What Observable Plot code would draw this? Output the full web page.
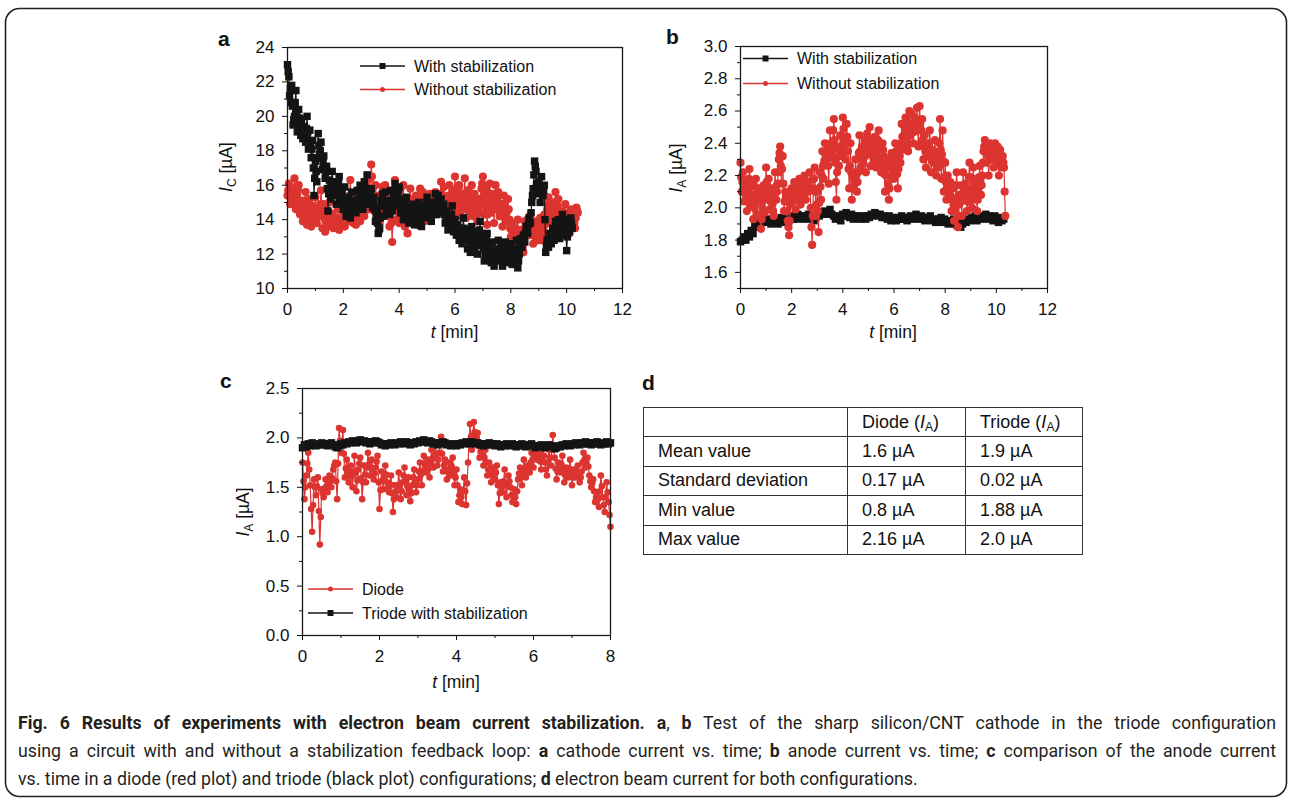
<!DOCTYPE html>
<html><head><meta charset="utf-8">
<script src="https://cdn.jsdelivr.net/npm/d3@7"></script>
<script src="https://cdn.jsdelivr.net/npm/@observablehq/plot@0.6"></script>
<style>
html,body{margin:0;padding:0;background:#fff;}
#fig{position:relative;width:1292px;height:801px;overflow:hidden;background:#fff;font-family:"Liberation Sans",Arial,Helvetica,sans-serif;color:#111;}
.panel{position:absolute;}
.panel svg{overflow:visible;}
#overlay{position:absolute;left:0;top:0;pointer-events:none;}
#tbl{position:absolute;left:643px;top:407px;border-collapse:collapse;table-layout:fixed;font-size:18px;color:#111;}
#tbl td{border:1px solid #333;padding:0 0 0 14px;height:28.4px;vertical-align:middle;white-space:nowrap;}
#tbl sub{font-size:12px;vertical-align:-3px;line-height:0;}
</style></head>
<body>
<div id="fig">
  <div id="pa" class="panel" style="left:200px;top:20px"></div>
  <div id="pb" class="panel" style="left:650px;top:20px"></div>
  <div id="pc" class="panel" style="left:210px;top:362px"></div>
  <table id="tbl"></table>
  <svg id="overlay" width="1292" height="801"></svg>
</div>
<script>
const RED = "#dc3430", BLK = "#141414";

// ---------- panel a : cathode current I_C [µA] ----------
// samples every aStep min; "Mid" arrays are the readings half a step later
const aStep = 0.05;
const aWith = [
  23.0,22.3,21.6,21.8,19.5,20.0,21.5,19.1,20.4,19.3,
  19.8,18.7,19.4,18.5,20.0,18.1,19.2,17.6,18.6,15.4,
  17.4,16.2,19.0,17.8,18.5,16.9,17.7,16.4,17.1,14.5,
  16.3,15.2,16.8,15.6,16.1,14.9,15.8,16.5,15.0,15.6,
  14.6,15.9,14.2,15.3,14.8,14.1,15.6,14.5,15.1,14.4,
  15.7,14.8,16.0,15.2,14.6,16.2,15.0,16.6,14.9,15.4,
  15.8,14.7,15.3,13.9,14.5,13.2,13.5,14.8,15.5,14.2,
  15.6,14.6,15.1,14.3,15.7,14.5,15.0,16.1,14.8,15.5,
  15.9,14.4,15.2,14.0,14.9,15.3,14.2,13.8,14.7,14.1,
  14.9,13.7,14.5,13.9,15.0,14.3,13.6,14.8,14.1,14.6,
  15.3,14.2,14.8,13.9,15.0,14.5,15.5,14.3,15.4,14.7,
  15.2,14.4,14.9,13.8,14.5,13.4,14.2,13.9,14.8,13.3,
  14.0,13.1,13.7,12.8,13.5,12.6,14.1,12.9,13.4,12.3,
  13.2,12.1,13.6,12.7,12.4,13.3,12.0,12.9,13.9,12.5,
  13.0,11.6,12.5,13.2,11.8,12.3,11.5,12.7,11.3,12.2,
  11.9,12.8,11.6,12.4,11.3,12.1,12.7,11.5,12.3,11.8,
  12.6,11.4,12.2,11.9,12.8,11.2,12.0,12.9,12.4,13.1,
  12.7,13.6,13.2,14.1,13.8,15.0,15.8,17.4,16.8,15.5,
  16.2,15.0,16.5,15.4,16.0,12.1,12.8,12.4,13.2,12.6,
  13.5,12.8,13.9,13.1,14.0,12.9,13.6,14.3,13.4,14.0,
  12.2,13.8,13.3,14.1,13.5
];
const aWithMid = [
  22.6,21.2,20.8,20.6,19.8,20.8,20.3,19.7,19.9,18.9,
  19.2,19.0,18.9,19.3,19.1,18.6,18.4,18.1,17.0,16.4,
  16.8,17.6,18.3,18.0,17.6,17.3,17.0,16.8,15.8,15.5,
  15.7,16.0,16.2,15.9,15.5,15.4,16.2,15.7,15.3,15.1,
  15.2,15.0,14.8,14.6,14.4,14.9,15.0,14.8,14.7,15.0,
  15.2,15.4,15.6,14.9,15.4,15.6,15.8,15.7,15.1,15.6,
  15.2,15.0,14.6,14.2,13.8,13.4,14.1,15.1,14.8,14.9,
  15.1,14.9,14.7,15.0,15.1,14.8,15.5,15.4,15.2,15.7,
  15.1,14.8,14.6,14.5,15.1,14.7,14.0,14.2,14.4,14.5,
  14.3,14.1,14.2,14.4,14.6,13.9,14.2,14.4,14.3,15.0,
  14.8,14.5,14.3,14.4,14.8,15.0,14.9,14.9,15.0,14.9,
  14.8,14.6,14.3,14.1,13.9,13.8,14.0,14.3,14.0,13.6,
  13.5,13.4,13.2,13.1,13.0,13.4,13.5,13.1,12.9,12.8,
  12.6,12.9,13.1,12.5,12.9,12.6,12.5,13.4,13.2,12.8,
  12.3,12.0,12.8,12.5,12.0,11.9,12.1,12.0,11.7,12.0,
  12.3,12.2,12.0,11.8,11.7,12.4,12.1,11.9,12.0,12.2,
  12.0,11.8,12.1,12.3,12.0,11.6,12.4,12.6,12.8,12.9,
  13.2,13.4,13.7,13.9,14.4,15.4,16.6,17.1,16.1,15.9,
  15.6,15.8,15.9,15.7,14.0,12.5,12.6,12.8,12.9,13.0,
  13.2,13.3,13.5,13.6,13.4,13.2,13.9,13.8,13.7,13.1,
  13.0,13.5,13.7,13.8
];
const aWithout = [
  15.4,16.1,14.9,15.8,15.2,16.4,14.6,15.5,16.0,14.3,
  15.1,13.9,14.7,15.6,13.7,14.4,15.2,13.6,14.8,14.0,
  15.3,13.8,14.6,14.2,15.7,13.5,14.9,13.3,14.5,13.6,
  15.0,13.9,14.3,13.5,14.1,13.7,14.6,13.4,14.0,13.8,
  14.4,13.6,15.2,13.9,14.6,16.3,14.4,13.8,15.0,13.7,
  15.6,14.2,13.9,15.0,14.5,14.2,16.1,15.3,14.6,15.8,
  17.2,15.8,14.5,16.0,14.0,15.4,13.8,14.7,15.9,14.3,
  16.0,14.3,15.5,13.6,14.9,12.7,15.2,16.3,14.0,15.7,
  13.8,15.8,14.2,16.0,13.6,15.1,13.2,14.6,15.8,13.9,
  15.0,14.3,15.4,13.7,14.9,15.8,14.2,15.6,13.9,14.6,
  15.2,14.0,15.5,14.4,15.0,14.7,15.6,14.3,15.5,14.7,
  16.2,14.8,15.9,14.5,15.3,14.9,16.0,14.4,15.6,15.0,
  16.5,14.4,15.6,16.0,14.2,15.3,14.6,16.4,14.1,15.7,
  14.5,15.1,16.0,14.2,15.5,14.8,13.9,15.2,14.4,15.8,
  16.5,14.3,15.8,13.7,14.9,16.1,14.4,15.5,13.8,16.0,
  14.6,15.6,14.2,14.9,13.6,15.4,14.5,13.9,15.2,14.0,
  13.0,13.8,12.4,13.5,12.9,14.0,12.2,13.4,12.8,12.1,
  13.9,13.3,14.0,13.1,14.3,13.6,12.6,13.9,13.2,12.8,
  13.5,14.1,12.8,13.6,14.3,13.2,14.6,15.3,13.9,14.8,
  15.0,14.2,15.6,14.4,15.2,13.7,14.5,13.3,14.0,14.9,
  13.6,14.4,13.2,14.6,13.8,14.2,13.5,14.7,14.4
];
const aWithoutMid = [
  15.7,15.5,15.3,15.5,15.8,15.4,15.0,15.7,15.1,14.7,
  14.5,14.3,15.1,14.6,14.1,14.8,14.4,14.2,14.4,14.6,
  14.5,14.2,14.4,14.9,14.6,14.2,14.1,13.9,14.0,14.3,
  14.4,14.1,13.9,13.8,13.9,14.1,14.0,13.7,13.9,14.1,
  14.0,14.4,14.5,14.2,15.4,15.3,14.1,14.4,14.3,14.6,
  14.9,14.0,14.4,14.7,14.3,15.1,15.7,14.9,15.2,16.4,
  16.5,15.1,15.2,15.0,14.7,14.6,14.2,15.3,15.1,15.2,
  15.1,14.9,14.5,14.2,13.8,14.0,15.7,15.1,14.8,14.7,
  14.8,15.0,15.1,14.8,14.3,14.2,13.9,15.2,14.8,14.4,
  14.6,14.8,14.5,14.3,15.3,15.0,14.9,14.7,14.2,14.9,
  14.6,14.7,14.9,14.7,14.8,15.2,14.9,14.9,15.1,15.4,
  15.5,15.3,15.2,14.9,15.1,15.4,15.2,15.0,15.3,15.7,
  15.4,15.0,15.8,15.1,14.7,14.9,15.5,15.2,14.9,15.1,
  14.8,15.5,15.1,14.8,15.1,14.3,14.5,14.8,15.1,16.1,
  15.4,15.0,14.7,14.3,15.5,15.2,14.9,14.6,14.9,15.3,
  15.1,14.9,14.5,14.2,14.5,14.9,14.2,14.5,14.6,13.5,
  13.4,13.1,12.9,13.2,13.4,13.1,12.8,13.1,12.4,13.0,
  13.6,13.6,13.5,13.7,13.9,13.1,13.2,13.5,13.0,13.1,
  13.8,13.4,13.2,13.9,13.7,13.9,14.9,14.6,14.3,14.9,
  14.6,14.9,15.0,14.8,14.4,14.1,13.9,13.6,14.4,14.2,
  14.0,13.8,13.9,14.2,14.0,13.8,14.1,14.5
];
const aXTicks = [0,2,4,6,8,10,12], aXMinor = [1,3,5,7,9,11];
const aYTicks = [10,12,14,16,18,20,22,24], aYMinor = [11,13,15,17,19,21,23];

// ---------- panel b : anode current I_A [µA] ----------
const bWithStep = 0.07, bWithoutStep = 0.05;
const bWith = [
  1.79,1.80,1.82,1.80,1.84,1.82,1.86,1.84,1.89,1.88,
  1.91,1.93,1.92,1.94,1.91,1.93,1.92,1.90,1.93,1.91,
  1.93,1.90,1.92,1.94,1.93,1.91,1.93,1.92,1.94,1.93,
  1.95,1.93,1.96,1.94,1.95,1.93,1.95,1.94,1.96,1.93,
  1.95,1.92,1.94,1.96,1.95,1.97,1.96,1.98,1.96,1.97,
  1.99,1.96,1.95,1.93,1.95,1.94,1.92,1.96,1.95,1.97,
  1.95,1.94,1.96,1.93,1.95,1.94,1.95,1.93,1.94,1.95,
  1.93,1.95,1.94,1.96,1.95,1.97,1.96,1.95,1.96,1.94,
  1.95,1.94,1.93,1.95,1.92,1.94,1.93,1.92,1.94,1.93,
  1.95,1.93,1.94,1.92,1.94,1.95,1.93,1.94,1.96,1.94,
  1.93,1.95,1.94,1.92,1.94,1.93,1.95,1.92,1.93,1.91,
  1.93,1.92,1.94,1.91,1.93,1.92,1.90,1.92,1.91,1.93,
  1.90,1.89,1.91,1.88,1.90,1.92,1.91,1.93,1.92,1.94,
  1.93,1.95,1.92,1.94,1.93,1.95,1.94,1.96,1.93,1.95,
  1.94,1.92,1.95,1.93,1.91,1.94,1.92,1.93
];
const bWithout = [
  2.28,2.10,2.22,2.04,2.16,1.98,2.12,2.24,2.02,2.15,
  1.93,2.08,2.18,1.96,2.12,2.04,1.87,2.00,2.14,1.97,
  2.25,2.08,2.18,1.99,2.10,2.02,1.95,2.22,2.05,2.15,
  2.30,2.38,2.15,2.32,1.98,2.10,2.05,1.92,1.83,2.02,
  2.12,2.05,2.16,1.99,2.12,2.06,2.18,2.02,2.14,2.08,
  2.20,2.05,2.16,2.10,2.22,2.00,1.77,2.12,2.25,1.95,
  2.10,1.85,2.22,2.05,2.35,2.18,2.40,2.28,2.38,2.15,
  2.48,2.32,2.40,2.55,2.28,2.05,2.38,2.26,2.45,2.32,
  2.56,2.42,2.30,2.52,2.35,2.12,2.40,2.05,2.20,2.15,
  2.30,2.10,2.22,2.45,2.25,2.38,2.28,2.42,2.22,2.46,
  2.35,2.50,2.26,2.40,2.30,2.44,2.25,2.36,2.48,2.28,
  2.22,2.40,2.32,2.10,2.30,2.25,2.05,2.20,2.34,2.28,
  2.18,2.40,2.30,2.12,2.36,2.28,2.52,2.36,2.45,2.56,
  2.42,2.35,2.60,2.45,2.58,2.40,2.55,2.48,2.62,2.38,
  2.63,2.40,2.55,2.30,2.45,2.25,2.40,2.32,2.48,2.22,
  2.36,2.28,2.42,2.20,2.30,2.25,2.55,2.18,2.48,2.10,
  2.28,2.05,2.20,2.08,2.16,1.98,2.12,1.92,2.06,2.22,
  1.88,2.02,2.14,1.95,2.22,2.05,2.15,1.98,2.10,2.28,
  2.10,2.00,2.25,2.05,2.18,1.98,2.12,2.26,2.08,2.20,
  2.35,2.42,2.28,2.38,2.20,2.40,2.30,2.36,2.25,2.40,
  2.30,2.38,2.20,2.36,2.25,2.32,2.25,1.95
];
const bWithoutMid = [
  2.19,2.16,2.13,2.10,2.07,2.05,2.18,2.13,2.08,2.04,
  2.00,2.13,2.07,2.04,2.08,1.95,1.93,2.07,2.05,2.11,
  2.16,2.13,2.08,2.04,2.06,1.98,2.08,2.13,2.10,2.22,
  2.34,2.26,2.24,2.15,2.04,2.07,1.98,1.88,1.92,2.07,
  2.08,2.10,2.07,2.05,2.09,2.12,2.10,2.08,2.11,2.14,
  2.12,2.10,2.13,2.16,2.11,1.88,1.95,2.18,2.10,2.02,
  1.98,2.03,2.13,2.20,2.26,2.29,2.34,2.33,2.26,2.31,
  2.40,2.36,2.48,2.42,2.16,2.22,2.32,2.35,2.38,2.44,
  2.49,2.36,2.41,2.44,2.24,2.26,2.22,2.12,2.18,2.22,
  2.20,2.16,2.34,2.35,2.31,2.33,2.35,2.32,2.34,2.40,
  2.42,2.38,2.33,2.35,2.37,2.34,2.30,2.42,2.38,2.25,
  2.31,2.36,2.21,2.20,2.27,2.15,2.12,2.27,2.31,2.23,
  2.29,2.35,2.21,2.24,2.32,2.40,2.44,2.40,2.50,2.49,
  2.38,2.48,2.52,2.51,2.49,2.47,2.51,2.55,2.50,2.51,
  2.52,2.48,2.42,2.38,2.35,2.32,2.36,2.40,2.35,2.29,
  2.32,2.35,2.31,2.25,2.28,2.40,2.36,2.33,2.29,2.19,
  2.16,2.12,2.14,2.12,2.07,2.05,2.02,1.99,2.14,2.05,
  1.95,2.08,2.04,2.08,2.13,2.10,2.06,2.04,2.19,2.19,
  2.05,2.12,2.15,2.11,2.08,2.05,2.19,2.17,2.14,2.28,
  2.38,2.35,2.33,2.29,2.30,2.35,2.33,2.30,2.32,2.35,
  2.34,2.29,2.28,2.30,2.28,2.28,2.10
];
const bXTicks = [0,2,4,6,8,10,12], bXMinor = [1,3,5,7,9,11];
const bYTicks = [1.6,1.8,2.0,2.2,2.4,2.6,2.8,3.0], bYMinor = [1.5,1.7,1.9,2.1,2.3,2.5,2.7,2.9];

// ---------- panel c : diode vs triode I_A [µA] ----------
const cStep = 0.05;
const cDiode = [
  1.75,1.38,1.62,1.85,1.52,1.05,1.58,1.42,1.60,0.92,
  1.48,1.40,1.58,1.45,1.62,1.50,1.68,1.75,1.38,2.10,
  1.85,2.08,1.60,1.78,1.55,1.72,1.50,1.82,1.46,1.68,
  1.80,1.38,1.72,1.55,1.85,1.62,1.78,1.58,1.70,1.82,
  1.28,1.66,1.48,1.72,1.55,1.45,1.62,1.25,1.52,1.40,
  1.65,1.38,1.55,1.70,1.42,1.60,1.36,1.52,1.68,1.45,
  1.58,1.75,1.52,1.82,1.65,1.78,1.60,1.88,1.70,1.95,
  1.72,1.85,2.01,1.66,1.78,1.58,1.75,1.62,1.80,1.52,
  1.68,1.35,1.48,1.33,1.60,1.32,1.75,2.14,1.88,2.16,
  1.95,2.05,1.80,1.92,1.72,1.88,1.62,1.75,1.55,1.70,
  1.58,1.72,1.33,1.55,1.45,1.68,1.40,1.62,1.50,1.35,
  1.48,1.33,1.58,1.70,1.52,1.78,1.60,1.72,1.65,1.85,
  1.70,1.92,1.78,1.85,1.68,1.90,1.75,1.62,1.88,1.72,
  2.03,1.80,1.58,1.75,1.65,1.82,1.55,1.70,1.60,1.78,
  1.52,1.68,1.60,1.72,1.55,1.66,1.85,1.70,1.80,1.62,
  1.50,1.58,1.35,1.45,1.30,1.62,1.40,1.25,1.55,1.35,
  1.10
];
const cDiodeMid = [
  1.56,1.50,1.74,1.68,1.28,1.32,1.50,1.51,1.26,1.20,
  1.44,1.49,1.51,1.53,1.56,1.59,1.72,1.56,1.74,1.97,
  1.96,1.84,1.69,1.66,1.63,1.61,1.66,1.64,1.57,1.74,
  1.59,1.55,1.63,1.70,1.73,1.70,1.68,1.64,1.76,1.55,
  1.47,1.57,1.60,1.63,1.50,1.53,1.44,1.38,1.46,1.52,
  1.51,1.46,1.62,1.56,1.51,1.48,1.44,1.60,1.56,1.52,
  1.66,1.63,1.67,1.73,1.71,1.69,1.74,1.79,1.82,1.84,
  1.78,1.93,1.84,1.72,1.68,1.66,1.68,1.71,1.66,1.60,
  1.52,1.42,1.40,1.46,1.46,1.54,1.95,2.01,2.02,2.06,
  2.00,1.92,1.86,1.82,1.80,1.75,1.68,1.65,1.62,1.64,
  1.65,1.52,1.44,1.50,1.56,1.54,1.51,1.56,1.42,1.41,
  1.40,1.46,1.64,1.61,1.65,1.69,1.66,1.68,1.75,1.78,
  1.81,1.85,1.81,1.76,1.79,1.82,1.68,1.75,1.80,1.88,
  1.92,1.69,1.66,1.70,1.73,1.68,1.62,1.65,1.69,1.65,
  1.60,1.64,1.66,1.63,1.60,1.75,1.78,1.75,1.71,1.56,
  1.54,1.46,1.40,1.38,1.46,1.51,1.32,1.40,1.45,1.22
];
const cTriode = [
  1.90,1.93,1.91,1.94,1.92,1.95,1.93,1.92,1.94,1.93,
  1.95,1.93,1.94,1.92,1.94,1.95,1.93,1.91,1.90,1.92,
  1.94,1.93,1.95,1.94,1.96,1.95,1.97,1.96,1.95,1.97,
  1.98,1.96,1.97,1.95,1.96,1.94,1.96,1.95,1.97,1.96,
  1.95,1.93,1.94,1.92,1.94,1.93,1.95,1.94,1.93,1.95,
  1.94,1.96,1.95,1.94,1.96,1.95,1.93,1.95,1.94,1.96,
  1.95,1.97,1.96,1.98,1.96,1.95,1.97,1.96,1.94,1.95,
  1.93,1.95,1.94,1.96,1.95,1.93,1.94,1.92,1.93,1.94,
  1.92,1.94,1.93,1.95,1.94,1.96,1.95,1.94,1.96,1.95,
  1.94,1.95,1.93,1.94,1.92,1.94,1.93,1.95,1.93,1.94,
  1.92,1.94,1.93,1.91,1.93,1.92,1.94,1.93,1.92,1.94,
  1.93,1.91,1.93,1.92,1.94,1.92,1.91,1.93,1.92,1.94,
  1.92,1.90,1.92,1.91,1.93,1.92,1.90,1.91,1.93,1.92,
  1.91,1.89,1.90,1.92,1.91,1.93,1.92,1.94,1.93,1.92,
  1.94,1.93,1.95,1.94,1.93,1.95,1.94,1.96,1.94,1.95,
  1.93,1.95,1.94,1.96,1.94,1.93,1.95,1.94,1.96,1.94,
  1.95
];
const cXTicks = [0,2,4,6,8], cXMinor = [1,3,5,7];
const cYTicks = [0,0.5,1.0,1.5,2.0,2.5], cYMinor = [0.25,0.75,1.25,1.75,2.25];

// ---------- panel d : table ----------
const tableHeader = ["", "Diode", "Triode"];
const tableRows = ["Mean value", "Standard deviation", "Min value", "Max value"];
const diodeVals = ["1.6", "0.17", "0.8", "2.16"];
const triodeVals = ["1.9", "0.02", "1.88", "2.0"];

// ---------- build ----------
const rows = (vals, step, offset = 0) => vals.map((v, i) => ({t: Math.round((i + offset) * step * 10000) / 10000, v}));
const merged = (main, mid, step) => rows(main, step).concat(mid ? rows(mid, step, 0.5) : []).sort((p, q) => p.t - q.t);

function panel(o) {
  const marks = [];
  for (const s of o.series) {
    marks.push(Plot.line(s.data, {x: "t", y: "v", stroke: s.color, strokeWidth: 1.2}));
    marks.push(Plot.dot(s.data, {x: "t", y: "v", symbol: s.symbol, r: s.r, fill: s.color, stroke: "none"}));
  }
  return Plot.plot({
    width: o.width, height: o.height,
    marginLeft: o.ml, marginRight: o.mr, marginTop: o.mt, marginBottom: o.mb,
    x: {domain: o.xDomain}, y: {domain: o.yDomain},
    style: {fontFamily: '"Liberation Sans", Arial, sans-serif', fontSize: "17px", color: "#111", background: "transparent", overflow: "visible"},
    marks: [
      ...marks,
      Plot.frame({stroke: "#1a1a1a", strokeWidth: 1.3}),
      Plot.axisX({ticks: o.xTicks, tickSize: 5, tickPadding: 9, tickFormat: d => String(d), label: null}),
      Plot.axisX({ticks: o.xMinor, tickSize: 3, tickFormat: () => "", label: null}),
      Plot.axisY({ticks: o.yTicks, tickSize: 5, tickPadding: 8, tickFormat: o.yFormat, label: null}),
      Plot.axisY({ticks: o.yMinor, tickSize: 3, tickFormat: () => "", label: null})
    ]
  });
}

document.getElementById("pa").append(panel({
  width: 440, height: 340, ml: 87, mr: 18, mt: 27, mb: 72,
  xDomain: [0, 12], yDomain: [10, 24],
  xTicks: aXTicks, xMinor: aXMinor, yTicks: aYTicks, yMinor: aYMinor, yFormat: d => String(d),
  series: [
    {data: merged(aWithout, aWithoutMid, aStep), color: RED, symbol: "circle", r: 4.1},
    {data: merged(aWith, aWithMid, aStep), color: BLK, symbol: "square", r: 4.2}
  ]
}));
document.getElementById("pb").append(panel({
  width: 410, height: 340, ml: 90, mr: 13, mt: 26, mb: 72,
  xDomain: [0, 12], yDomain: [1.5, 3.0],
  xTicks: bXTicks, xMinor: bXMinor, yTicks: bYTicks, yMinor: bYMinor, yFormat: d3.format(".1f"),
  series: [
    {data: merged(bWith, null, bWithStep), color: BLK, symbol: "square", r: 4.2},
    {data: merged(bWithout, bWithoutMid, bWithoutStep), color: RED, symbol: "circle", r: 4.1}
  ]
}));
document.getElementById("pc").append(panel({
  width: 420, height: 340, ml: 92, mr: 20, mt: 26, mb: 67,
  xDomain: [0, 8], yDomain: [0, 2.5],
  xTicks: cXTicks, xMinor: cXMinor, yTicks: cYTicks, yMinor: cYMinor, yFormat: d3.format(".1f"),
  series: [
    {data: merged(cDiode, cDiodeMid, cStep), color: RED, symbol: "circle", r: 3.3},
    {data: merged(cTriode, null, cStep), color: BLK, symbol: "square", r: 4.2}
  ]
}));

// table
const tbl = d3.select("#tbl");
const cg = tbl.append("colgroup");
[204, 118, 117].forEach(w => cg.append("col").style("width", w + "px"));
const hr = tbl.append("tr");
hr.append("td");
tableHeader.slice(1).forEach(h => hr.append("td").html(`${h} (<i>I</i><sub>A</sub>)`));
tableRows.forEach((r, i) => {
  const tr = tbl.append("tr");
  tr.append("td").text(r);
  tr.append("td").text(diodeVals[i] + " µA");
  tr.append("td").text(triodeVals[i] + " µA");
});

// overlay: frame, panel letters, axis titles, legends, caption
const ov = d3.select("#overlay");
ov.append("rect").attr("x", 5.5).attr("y", 8.5).attr("width", 1281).attr("height", 788)
  .attr("rx", 14).attr("fill", "none").attr("stroke", "#231f20").attr("stroke-width", 1.6);

const F = '"Liberation Sans", Arial, Helvetica, sans-serif';
[["a", 218, 46], ["b", 666, 44], ["c", 220, 388], ["d", 642, 390]].forEach(([t, x, y]) =>
  ov.append("text").attr("x", x).attr("y", y).attr("font-family", F).attr("font-weight", "bold")
    .attr("font-size", 21).attr("fill", "#111").text(t));

function xTitle(cx, y) {
  const t = ov.append("text").attr("x", cx).attr("y", y).attr("text-anchor", "middle")
    .attr("font-family", F).attr("font-size", 17.5).attr("fill", "#111");
  t.append("tspan").attr("font-style", "italic").text("t");
  t.append("tspan").text(" [min]");
}
function yTitle(x, cy, sub) {
  const t = ov.append("text").attr("transform", `translate(${x},${cy}) rotate(-90)`)
    .attr("text-anchor", "middle").attr("font-family", F).attr("font-size", 17.5).attr("fill", "#111");
  t.append("tspan").attr("font-style", "italic").text("I");
  t.append("tspan").attr("dy", 4).attr("font-size", 12).text(sub);
  t.append("tspan").attr("dy", -4).text(" [µA]");
}
xTitle(454.5, 338); yTitle(232, 167, "C");
xTitle(893, 338); yTitle(682, 168, "A");
xTitle(456, 688); yTitle(249, 512, "A");

function legendItem(x0, y, color, symbol, label, size) {
  ov.append("line").attr("x1", x0).attr("x2", x0 + 45).attr("y1", y).attr("y2", y)
    .attr("stroke", color).attr("stroke-width", 1.3);
  if (symbol === "square") ov.append("rect").attr("x", x0 + 22.5 - size / 2).attr("y", y - size / 2)
    .attr("width", size).attr("height", size).attr("fill", color);
  else ov.append("circle").attr("cx", x0 + 22.5).attr("cy", y).attr("r", size / 2).attr("fill", color);
  ov.append("text").attr("x", x0 + 54).attr("y", y + 5.5).attr("font-family", F).attr("font-size", 16)
    .attr("fill", "#111").text(label);
}
legendItem(360, 66, BLK, "square", "With stabilization", 6);
legendItem(360, 89.5, RED, "circle", "Without stabilization", 5);
legendItem(743, 58.5, BLK, "square", "With stabilization", 6);
legendItem(743, 83.5, RED, "circle", "Without stabilization", 5);
legendItem(308, 589, RED, "circle", "Diode", 5);
legendItem(308, 613, BLK, "square", "Triode with stabilization", 6);

// caption
const capLines = [
  [["Fig. 6 Results of experiments with electron beam current stabilization.", true], [" ", false], ["a", true], [", ", false], ["b", true], [" Test of the sharp silicon/CNT cathode in the triode configuration", false]],
  [["using a circuit with and without a stabilization feedback loop: ", false], ["a", true], [" cathode current vs. time; ", false], ["b", true], [" anode current vs. time; ", false], ["c", true], [" comparison of the anode current", false]],
  [["vs. time in a diode (red plot) and triode (black plot) configurations; ", false], ["d", true], [" electron beam current for both configurations.", false]]
];
const capY = [729, 757, 785];
const CF = 'Roboto, Lato, "Open Sans", sans-serif';
const CFS = 18.5;
const capNodes = capLines.map((parts, i) => {
  const t = ov.append("text").attr("x", 0).attr("y", 0).attr("font-family", CF)
    .attr("font-size", CFS).attr("fill", "#231f20").style("white-space", "pre");
  parts.forEach(([s, b]) => t.append("tspan").attr("font-weight", b ? "bold" : "normal").text(s));
  return t;
});
const w3 = capNodes[2].node().getComputedTextLength();
const sx = 900 / w3; // horizontal condensing to match the narrow caption face
capNodes.forEach((t, i) => t.attr("transform", `translate(18,${capY[i]}) scale(${sx},1)`));
[0, 1].forEach(i => {
  const n = capNodes[i];
  const w = n.node().getComputedTextLength();
  const spaces = capLines[i].map(p => p[0]).join("").split(" ").length - 1;
  n.style("word-spacing", ((1258 / sx - w) / spaces) + "px");
});
</script>
</body></html>
